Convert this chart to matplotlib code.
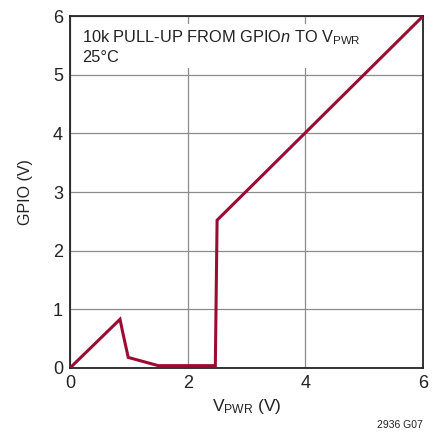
import matplotlib
matplotlib.use("Agg")
import matplotlib.pyplot as plt

plt.rcParams['font.family'] = ['Liberation Sans Narrow', 'Liberation Sans', 'DejaVu Sans']
plt.rcParams['mathtext.fontset'] = 'custom'
plt.rcParams['mathtext.rm'] = 'Liberation Sans'
plt.rcParams['mathtext.it'] = 'Liberation Sans:italic'

# GPIO voltage vs VPWR
vpwr = [0.0, 0.85, 0.90, 0.99, 1.50, 2.47, 2.50, 6.0]
gpio = [0.0, 0.83, 0.59, 0.18, 0.04, 0.04, 2.52, 6.0]

fig = plt.figure(figsize=(4.38, 4.36), dpi=100)
ax = fig.add_axes([0.1598, 0.156, 0.806, 0.807])

ax.plot(vpwr, gpio, color="#9b0c33", linewidth=2.2, solid_joinstyle="miter", zorder=3)

ax.set_xlim(0, 6)
ax.set_ylim(0, 6)
ax.set_xticks([0, 2, 4, 6])
ax.set_yticks([0, 1, 2, 3, 4, 5, 6])
ax.grid(True, color="#8c8c8c", linewidth=0.9)
ax.tick_params(length=0, labelsize=13, pad=5, colors="#222222")
for s in ax.spines.values():
    s.set_linewidth(1.3)
    s.set_color("#222222")

ax.set_xlabel(r"V$_{\mathrm{PWR}}$ (V)", fontsize=12.5, color="#222222", labelpad=4)
ax.set_ylabel("GPIO (V)", fontsize=11.5, color="#222222", labelpad=14)

ax.text(0.035, 0.965, "10k PULL-UP FROM GPIO$\\mathit{n}$ TO V$_{\\mathrm{PWR}}$\n25°C",
        transform=ax.transAxes, fontsize=11.8, va="top", ha="left", color="#222222",
        linespacing=1.25,
        bbox=dict(facecolor="white", edgecolor="none", pad=2))

fig.text(0.966, 0.025, "2936 G07", fontsize=7.5, ha="right", va="center", color="#222222")

fig.savefig("out.png", dpi=100)
